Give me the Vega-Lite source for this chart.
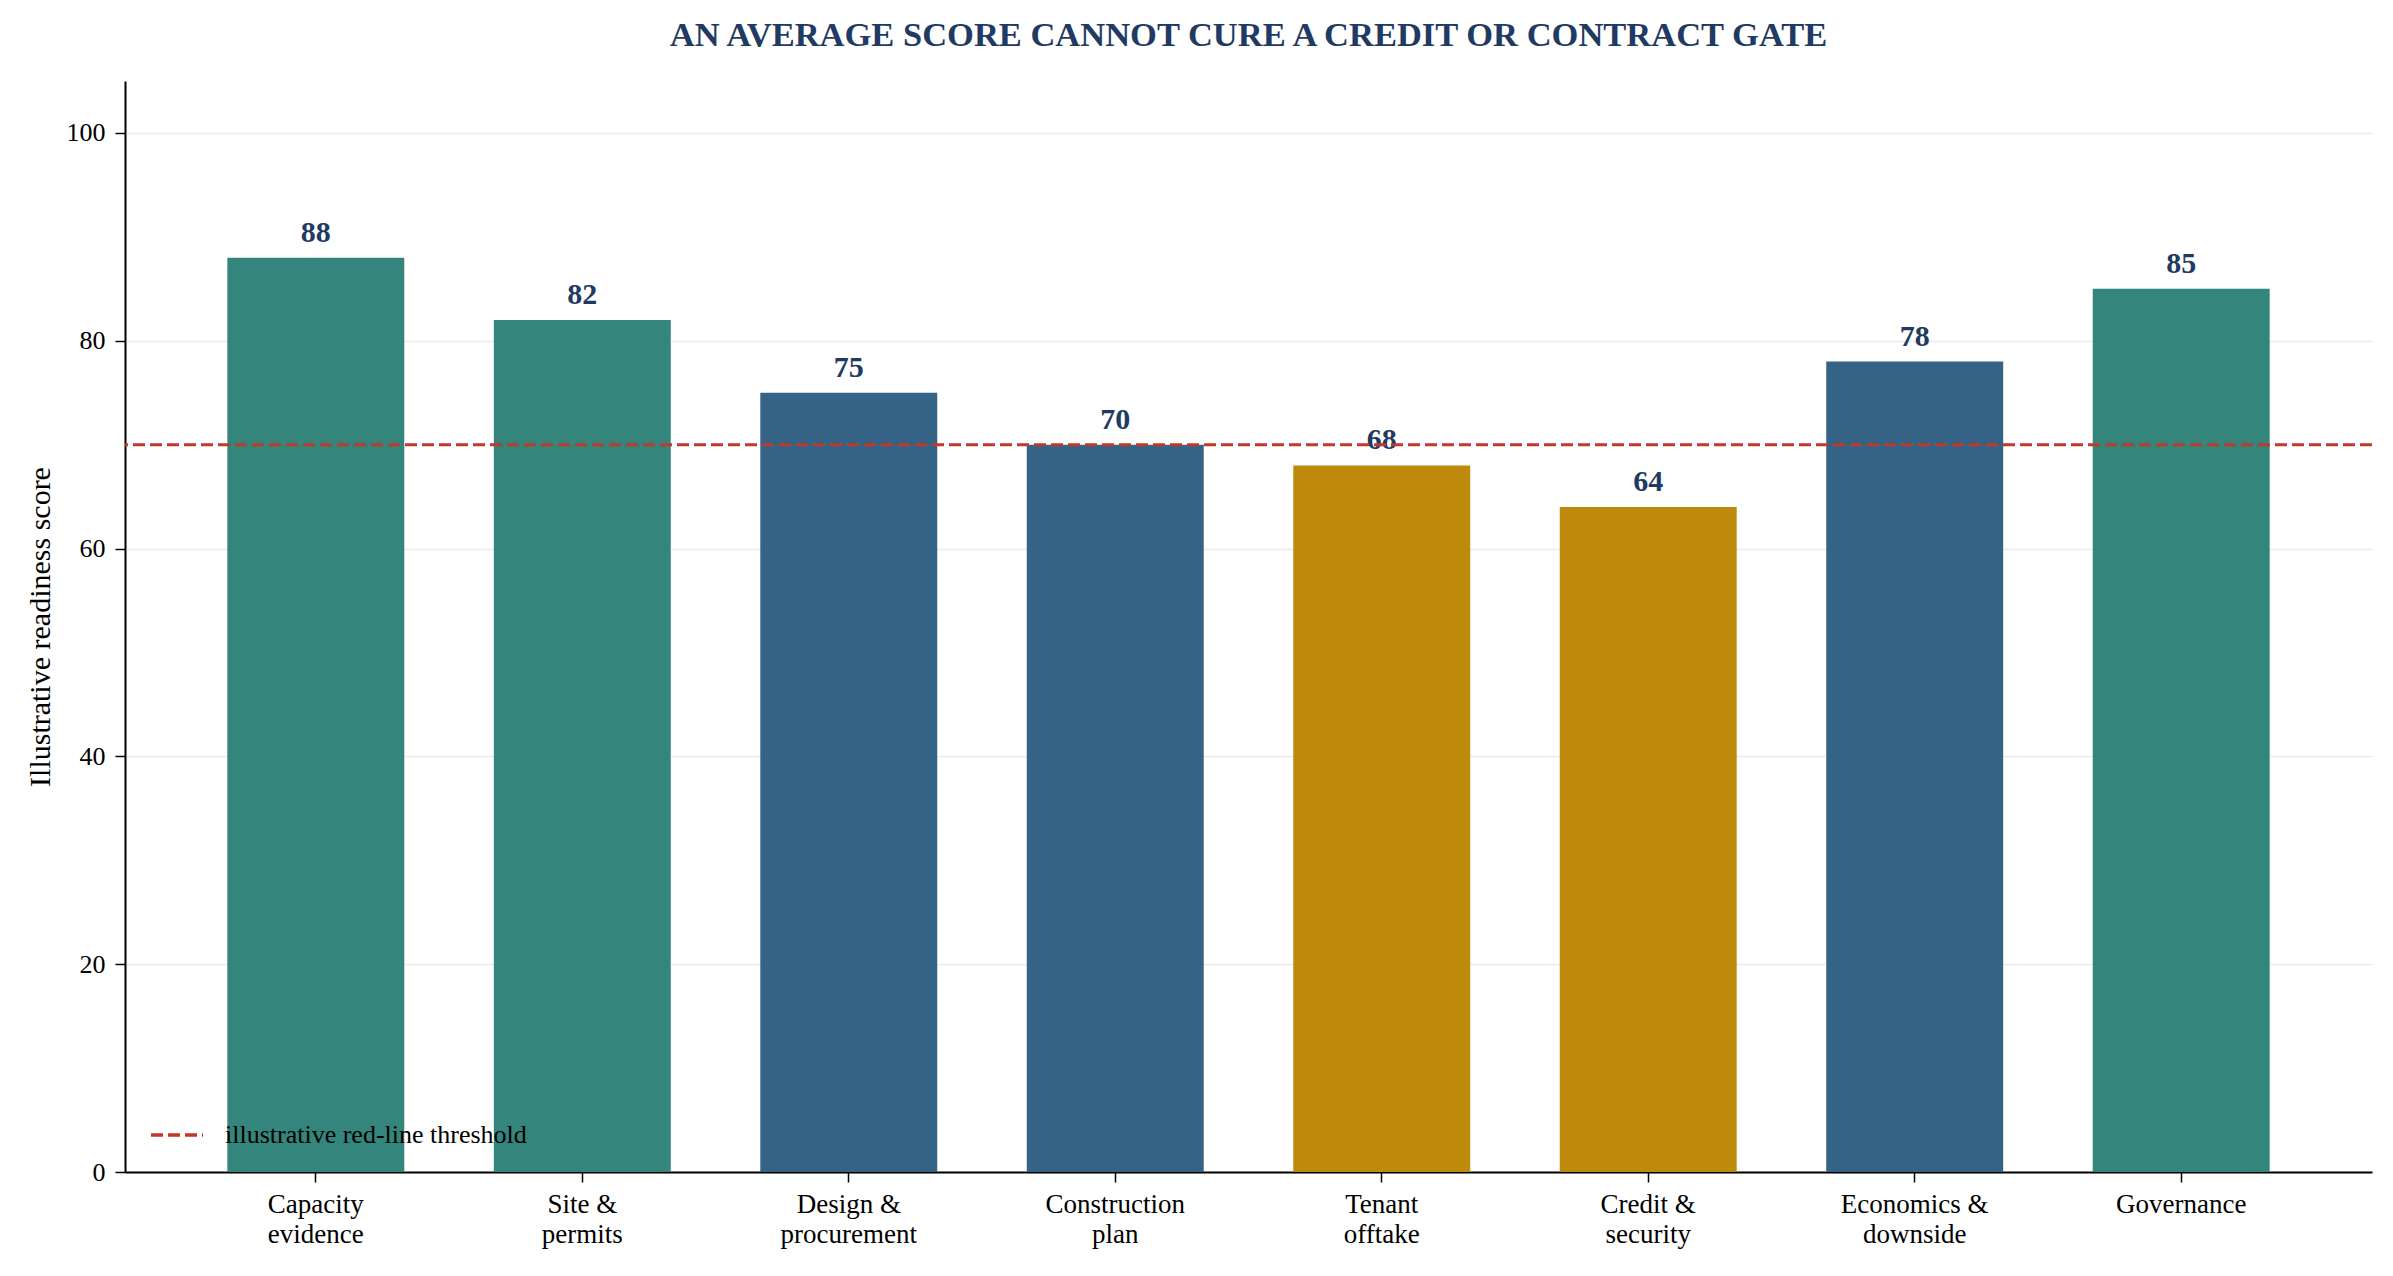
{
  "$schema": "https://vega.github.io/schema/vega-lite/v6.json",
  "width": 2247,
  "height": 1091,
  "autosize": {"type": "none"},
  "padding": {"left": 125, "top": 81, "right": 21, "bottom": 104},
  "background": "white",
  "title": {
    "text": "AN AVERAGE SCORE CANNOT CURE A CREDIT OR CONTRACT GATE",
    "font": "Liberation Serif",
    "fontSize": 34.5,
    "fontWeight": "bold",
    "color": "#1f3b63",
    "anchor": "middle",
    "baseline": "alphabetic",
    "offset": 1
  },
  "config": {
    "view": {"stroke": null},
    "font": "Liberation Serif",
    "axis": {
      "labelFont": "Liberation Serif",
      "titleFont": "Liberation Serif",
      "labelColor": "black",
      "titleColor": "black",
      "domainColor": "black",
      "tickColor": "black"
    }
  },
  "data": {
    "values": [
      {"category": "Capacity|evidence", "score": 88, "group": "teal"},
      {"category": "Site &|permits", "score": 82, "group": "teal"},
      {"category": "Design &|procurement", "score": 75, "group": "blue"},
      {"category": "Construction|plan", "score": 70, "group": "blue"},
      {"category": "Tenant|offtake", "score": 68, "group": "gold"},
      {"category": "Credit &|security", "score": 64, "group": "gold"},
      {"category": "Economics &|downside", "score": 78, "group": "blue"},
      {"category": "Governance", "score": 85, "group": "teal"}
    ]
  },
  "layer": [
    {
      "mark": {"type": "bar"},
      "encoding": {
        "x": {
          "field": "category",
          "type": "nominal",
          "sort": null,
          "scale": {"paddingInner": 0.336, "paddingOuter": 0.384},
          "axis": {
            "title": null,
            "labelAngle": 0,
            "labelExpr": "split(datum.label, '|')",
            "labelFontSize": 27,
            "labelLineHeight": 30,
            "labelPadding": 9,
            "labelBaseline": "top",
            "tickSize": 10,
            "tickWidth": 1.5,
            "domainWidth": 2,
            "grid": false
          }
        },
        "y": {
          "field": "score",
          "type": "quantitative",
          "scale": {"domain": [0, 105], "nice": false},
          "axis": {
            "title": "Illustrative readiness score",
            "titleFontSize": 30,
            "titleFontWeight": "normal",
            "titlePadding": 11,
            "labelFontSize": 26,
            "labelPadding": 10,
            "values": [0, 20, 40, 60, 80, 100],
            "tickSize": 10,
            "tickWidth": 1.5,
            "domainWidth": 2,
            "grid": true,
            "gridColor": "#ebebeb",
            "gridWidth": 1.5
          }
        },
        "color": {
          "field": "group",
          "type": "nominal",
          "scale": {"domain": ["teal", "blue", "gold"], "range": ["#34857c", "#356386", "#bd8a0b"]},
          "legend": null
        }
      }
    },
    {
      "mark": {"type": "text", "baseline": "alphabetic", "dy": -16, "font": "Liberation Serif", "fontSize": 30, "fontWeight": "bold", "color": "#1f3b63"},
      "encoding": {
        "x": {"field": "category", "type": "nominal", "sort": null},
        "y": {"field": "score", "type": "quantitative"},
        "text": {"field": "score", "type": "quantitative"}
      }
    },
    {
      "data": {"values": [{"threshold": 70, "label": "illustrative red-line threshold"}]},
      "mark": {"type": "rule", "color": "#c0392b", "strokeWidth": 3},
      "encoding": {
        "y": {"field": "threshold", "type": "quantitative"},
        "strokeDash": {
          "field": "label",
          "type": "nominal",
          "scale": {"range": [[12, 5]]},
          "legend": {
            "title": null,
            "orient": "bottom-left",
            "offset": 24,
            "symbolType": "stroke",
            "symbolSize": 2700,
            "symbolStrokeColor": "#c0392b",
            "symbolStrokeWidth": 3.5,
            "labelFont": "Liberation Serif",
            "labelFontSize": 26,
            "labelColor": "black",
            "labelOffset": 20,
            "labelLimit": 0
          }
        }
      }
    }
  ]
}
